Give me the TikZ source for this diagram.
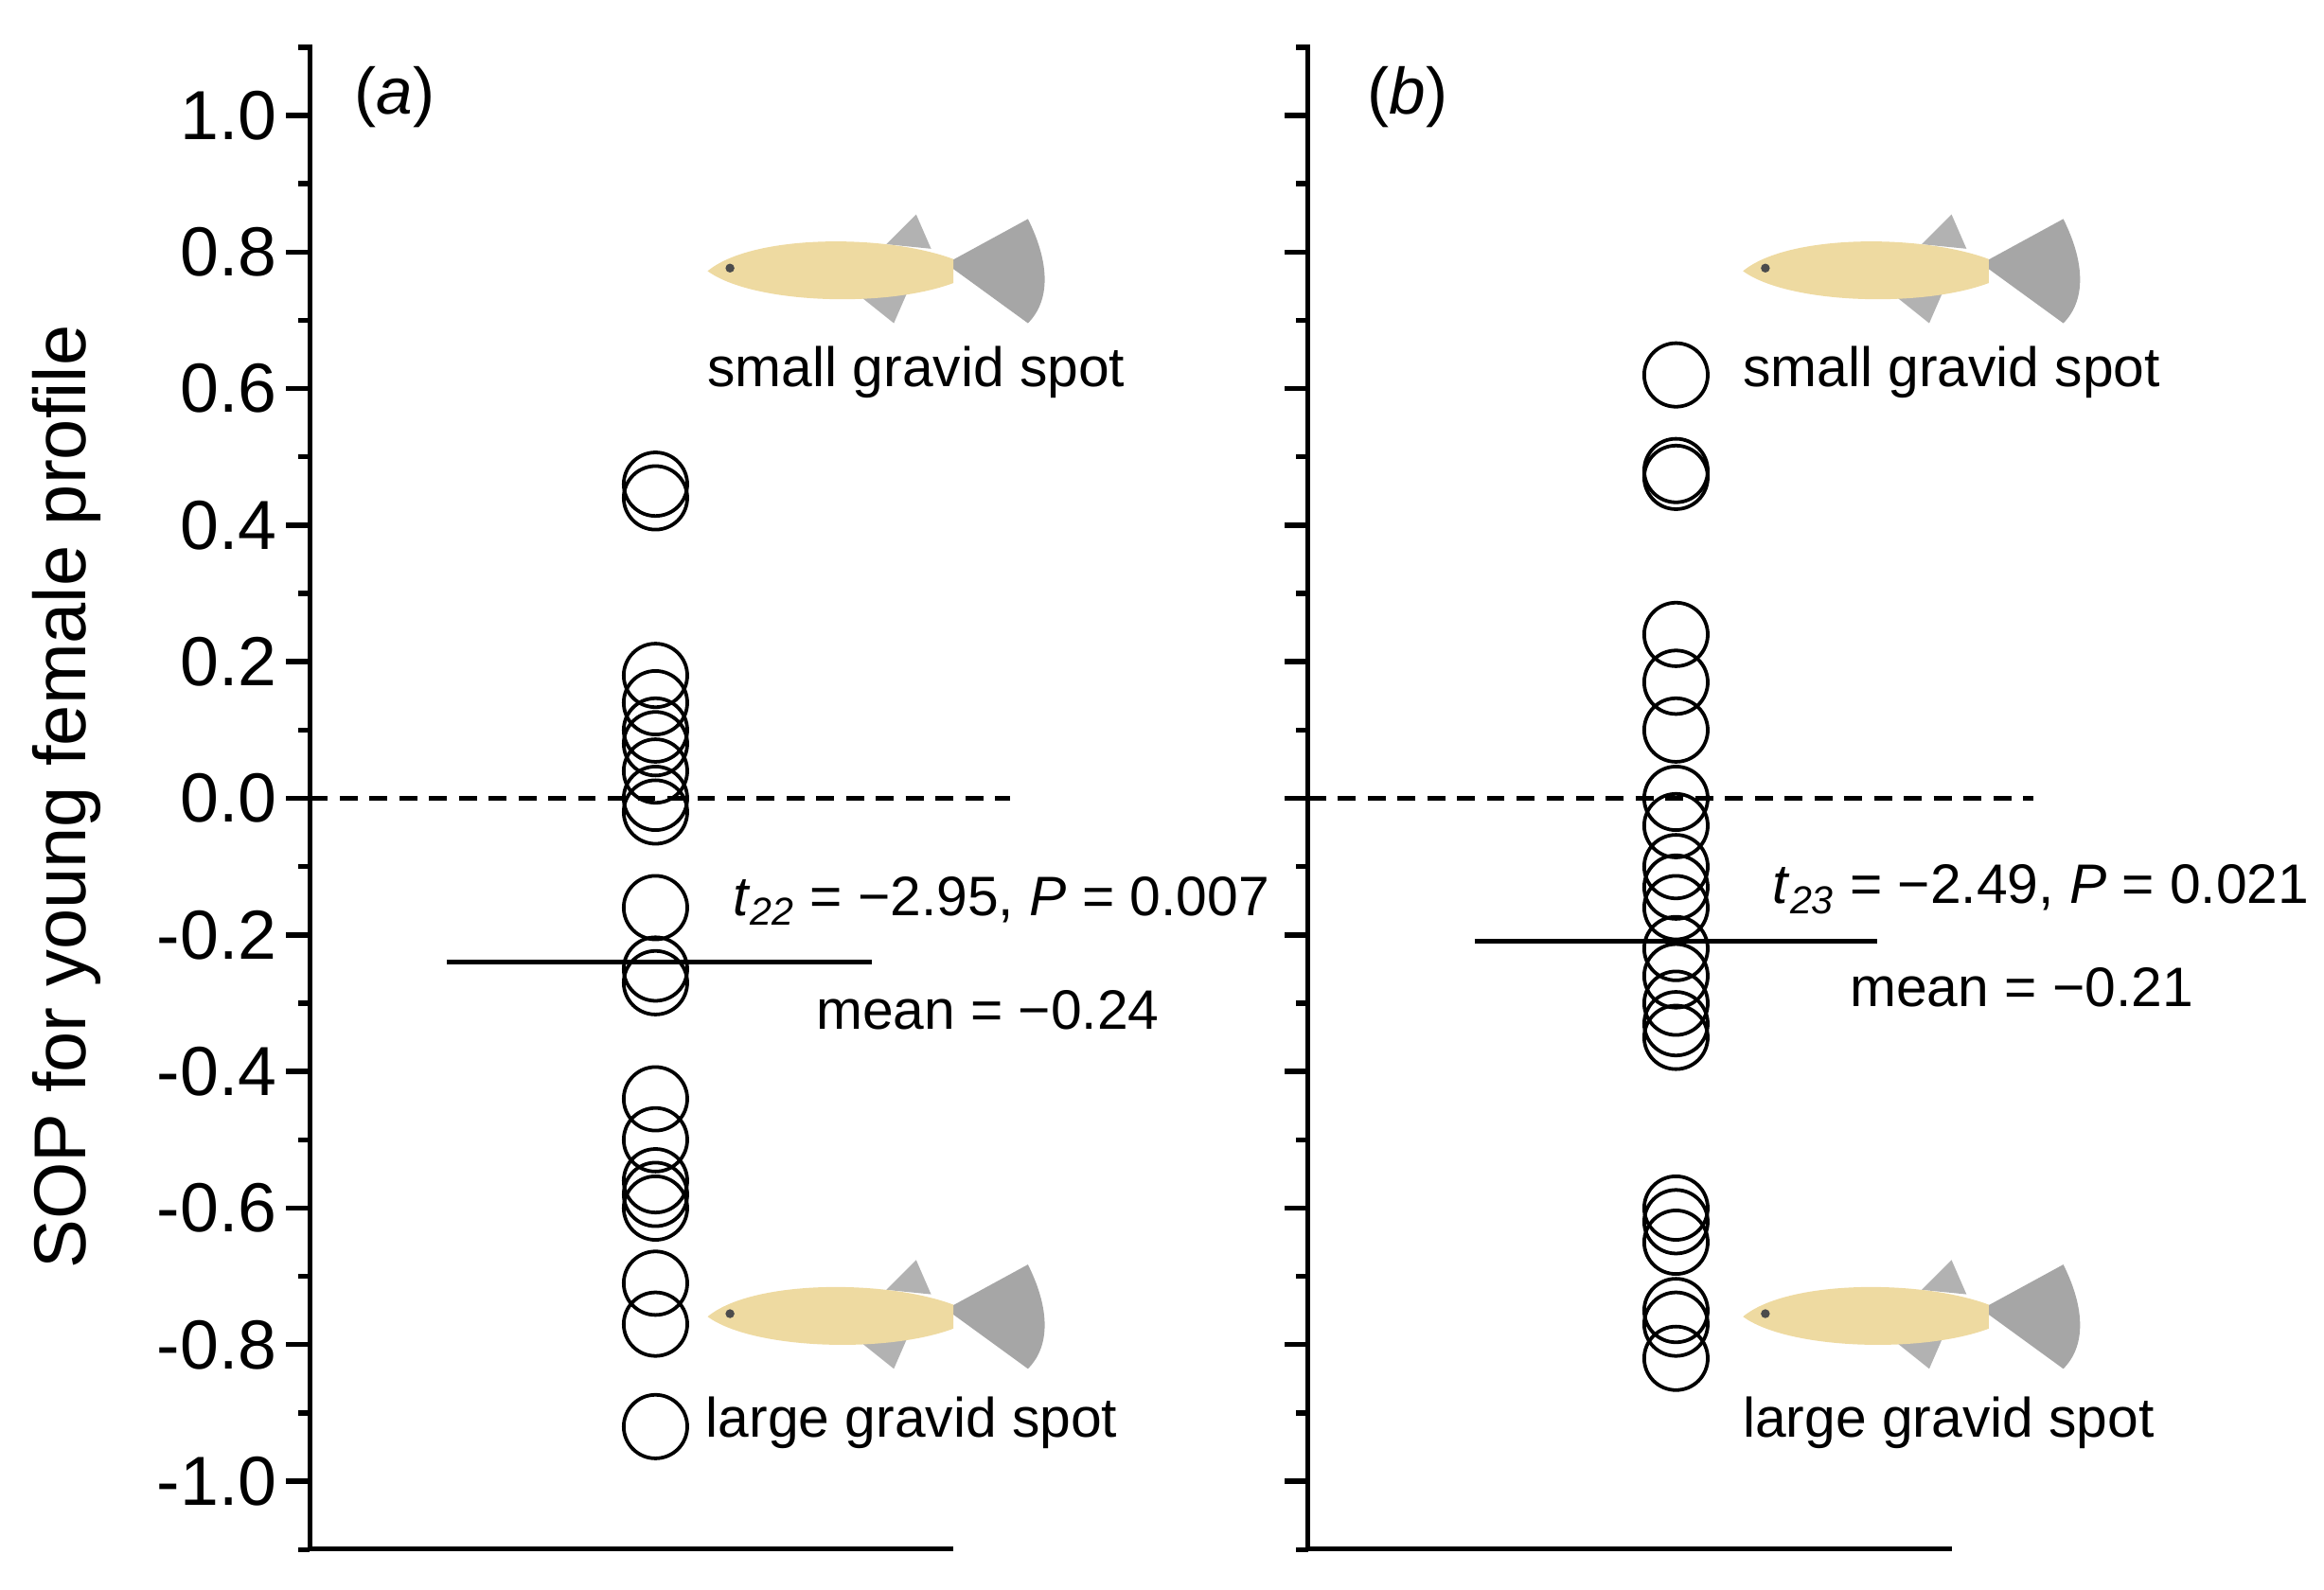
\documentclass[tikz,border=0pt]{standalone}
\usepackage{fontspec}
\setmainfont{Liberation Sans}
\tikzset{every picture/.style={line width=2.6pt}}
\tikzset{pt/.style={draw,circle,minimum size=32,inner sep=0,line width=1.8pt},
  lab/.style={font=\fontsize{28}{30}\selectfont},
  tick/.style={font=\fontsize{35}{37}\selectfont,anchor=east}}
\newcommand{\fish}[2]{%
  \fill[gray!70] (#1+160,#2-5) -- (#1+215,#2-35) .. controls (#1+230,#2-5) and (#1+230,#2+20) .. (#1+215,#2+35) -- cycle;
  \fill[gray!60] (#1+120,#2-18) -- (#1+140,#2-38) -- (#1+150,#2-15) -- cycle;
  \fill[gray!60] (#1+100,#2+15) -- (#1+125,#2+35) -- (#1+135,#2+12) -- cycle;
  \fill[yellow!35!brown!45] (#1,#2) .. controls (#1+30,#2-25) and (#1+120,#2-25) .. (#1+165,#2-8) -- (#1+165,#2+8) .. controls (#1+120,#2+25) and (#1+30,#2+22) .. (#1,#2) -- cycle;
  \fill[black!70] (#1+15,#2-2) circle (3);}
\begin{document}
\begin{tikzpicture}[x=0.75pt,y=0.75pt,yscale=-1,xscale=1]
\useasboundingbox (0,0) rectangle (1560,1067);
% axes
\foreach \ax in {208,878}{
  \draw (\ax,30) -- (\ax,1040);
  \foreach \v in {-10,-8,...,10}
    \draw (\ax,536-\v*45.85) -- ++(-16,0);
  \foreach \v in {-11,-9,...,11}
    \draw (\ax,536-\v*45.85) -- ++(-8,0);
}
\draw (208,1040) -- (640,1040);
\draw (878,1040) -- (1310,1040);
\foreach \v/\t in {5/1.0,4/0.8,3/0.6,2/0.4,1/0.2,0/0.0,-1/-0.2,-2/-0.4,-3/-0.6,-4/-0.8,-5/-1.0}
  \node[tick] at (192,536-\v*91.7) {\t};
\node[font=\fontsize{37}{39}\selectfont,rotate=90] at (45,535) {SOP for young female profile};
% panel a
\node[font=\fontsize{33}{35}\selectfont] (pa) at (265,65) {(\textit{a})};
\draw[dash pattern=on 9 off 6] (208,536) -- (678,536);
\foreach \v in {0.46,0.44,0.18,0.14,0.10,0.08,0.04,0.0,-0.02,-0.16,-0.25,-0.27,-0.44,-0.50,-0.56,-0.58,-0.60,-0.71,-0.77,-0.92}
  \node[pt] at (440,536-\v*458.5) {};
\draw (300,646) -- (585,646);
\fish{475}{182}
\fish{475}{884}
\node[lab] (sa) at (615,250) {small gravid spot};
\node[lab] (la) at (612,955) {large gravid spot};
\node[lab] (ta) at (672,605) {\textit{t}\textsubscript{\textit{22}} = −2.95, \textit{P} = 0.007};
\node[lab] (ma) at (663,678) {mean = −0.24};
% panel b
\node[font=\fontsize{33}{35}\selectfont] (pb) at (945,65) {(\textit{b})};
\draw[dash pattern=on 9 off 6] (878,536) -- (1365,536);
\foreach \v in {0.62,0.48,0.47,0.24,0.17,0.10,0.0,-0.04,-0.10,-0.13,-0.16,-0.22,-0.26,-0.30,-0.33,-0.35,-0.60,-0.62,-0.65,-0.75,-0.77,-0.82}
  \node[pt] at (1125,536-\v*458.5) {};
\draw (990,632) -- (1260,632);
\fish{1170}{182}
\fish{1170}{884}
\node[lab] (sb) at (1310,250) {small gravid spot};
\node[lab] (lb) at (1308,955) {large gravid spot};
\node[lab] (tb) at (1370,597) {\textit{t}\textsubscript{\textit{23}} = −2.49, \textit{P} = 0.021};
\node[lab] (mb) at (1357,663) {mean = −0.21};
\end{tikzpicture}
\end{document}
